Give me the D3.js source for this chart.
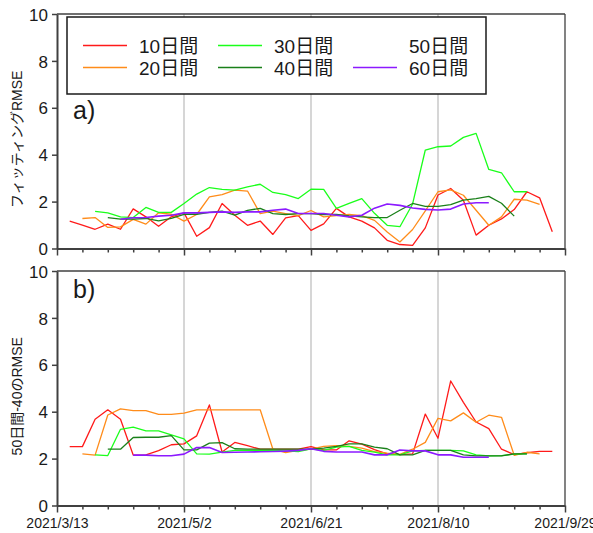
<!DOCTYPE html>
<html>
<head>
<meta charset="utf-8">
<script src="https://cdnjs.cloudflare.com/ajax/libs/d3/7.8.5/d3.min.js"></script>
<style>
  body { margin: 0; background: #fff; }
  svg text { font-family: "Liberation Sans", Arial, "Noto Sans CJK JP", sans-serif; fill: #1a1a1a; }
</style>
</head>
<body>
<div id="chart"></div>
<script>
// days after 2021/3/13
var days = [5,10,15,20,25,30,35,40,45,50,55,60,65,70,75,80,85,90,95,100,
            105,110,115,120,125,130,135,140,145,150,155,160,165,170,175,180,185,190,195];
var seriesNames = ["10日間","20日間","30日間","40日間","50日間","60日間"];
var seriesColors = ["#ff1a1a","#ff8c1a","#1aff1a","#1a801a","#ffffff","#8c1aff"];
var dateTicks = [0,50,100,150,200];
var dateLabels = ["2021/3/13","2021/5/2","2021/6/21","2021/8/10","2021/9/29"];
var yTicks = [0,2,4,6,8,10];

// a) fitting RMSE
var a10 = [1.17,1.0,0.82,1.04,0.82,1.69,1.35,0.95,1.35,1.52,0.52,0.89,1.92,1.42,0.99,1.17,0.6,1.31,1.4,0.77,
           1.05,1.71,1.35,1.17,0.88,0.35,0.17,0.13,0.88,2.28,2.56,2.06,0.57,0.99,1.26,1.66,2.42,2.16,0.71];
var a20 = [null,1.28,1.32,0.9,0.92,1.24,1.04,1.52,1.46,1.17,1.45,2.2,2.3,2.49,2.45,1.49,1.59,1.49,1.4,1.62,
           1.35,1.4,1.45,1.4,1.2,0.7,0.28,0.81,1.6,2.42,2.5,2.27,1.63,0.99,1.35,2.1,2.06,1.88,null];
var a30 = [null,null,1.58,1.52,1.35,1.32,1.75,1.54,1.54,1.92,2.32,2.6,2.52,2.49,2.63,2.74,2.39,2.3,2.13,2.53,
           2.52,1.71,1.92,2.13,1.5,0.99,0.93,1.9,4.2,4.34,4.37,4.74,4.91,3.37,3.23,2.42,2.42,null,null];
var a40 = [null,null,null,1.32,1.25,1.25,1.28,1.18,1.28,1.46,1.46,1.54,1.59,1.42,1.63,1.71,1.49,1.45,1.49,1.49,
           1.45,1.45,1.39,1.35,1.32,1.32,1.63,1.92,1.8,1.8,1.87,2.06,2.13,2.22,1.93,1.38,null,null,null];
var a60 = [null,null,null,null,1.25,1.31,1.32,1.38,1.42,1.52,1.52,1.54,1.56,1.54,1.56,1.56,1.63,1.68,1.49,1.49,
           1.49,1.42,1.35,1.42,1.72,1.9,1.84,1.73,1.67,1.64,1.68,1.9,1.95,1.95,null,null,null,null,null];

// b) RMSE of 50-day vs 40
var b10 = [2.51,2.51,3.68,4.08,3.68,2.15,2.16,2.34,2.59,2.63,2.97,4.29,2.28,2.69,2.55,2.4,2.4,2.4,2.4,2.51,
           2.37,2.37,2.76,2.62,2.38,2.2,2.17,2.2,3.9,2.87,5.31,4.4,3.56,3.28,2.4,2.17,2.25,2.31,2.31];
var b20 = [null,2.2,2.15,3.86,4.12,4.05,4.05,3.89,3.89,3.94,4.08,4.08,4.08,4.08,4.08,4.08,2.4,2.26,2.35,2.4,
           2.52,2.55,2.52,2.45,2.3,2.23,2.18,2.4,2.69,3.72,3.61,3.95,3.55,3.85,3.76,2.14,2.27,2.2,null];
var b30 = [null,null,2.16,2.13,3.25,3.34,3.18,3.18,3.01,2.84,2.2,2.19,2.28,2.35,2.35,2.35,2.35,2.33,2.3,2.42,
           2.35,2.49,2.52,2.35,2.28,2.16,2.16,2.33,2.35,2.35,2.35,2.33,2.16,2.12,2.13,2.19,2.2,null,null];
var b40 = [null,null,null,2.4,2.4,2.9,2.91,2.91,2.98,2.37,2.37,2.66,2.68,2.42,2.4,2.4,2.4,2.4,2.4,2.4,
           2.45,2.52,2.63,2.63,2.49,2.42,2.16,2.16,2.35,2.35,2.35,2.16,2.12,2.12,2.12,2.2,2.2,null,null];
var b60 = [null,null,null,null,null,2.15,2.15,2.12,2.12,2.19,2.47,2.47,2.26,2.27,2.28,2.29,2.3,2.32,2.35,2.42,
           2.31,2.28,2.28,2.28,2.16,2.16,2.37,2.33,2.33,2.16,2.16,2.06,2.06,2.06,null,null,null,null,null];

var width = 593, height = 533;
var svg = d3.select("#chart").append("svg")
  .attr("width", width).attr("height", height);

var x = d3.scaleLinear().domain([0, 200]).range([57, 565]);

var panels = [
  {top: 14, bottom: 248.5, label: "a)", labelY: 119, ytitle: "フィッティングRMSE",
   series: [a10, a20, a30, a40, null, a60], showDates: false},
  {top: 271, bottom: 505.5, label: "b)", labelY: 298, ytitle: "50日間-40のRMSE",
   series: [b10, b20, b30, b40, null, b60], showDates: true}
];

var minorTicks = d3.range(0, 201, 10);

panels.forEach(function(p){
  var y = d3.scaleLinear().domain([0, 10]).range([p.bottom, p.top]);
  var g = svg.append("g");

  // vertical reference lines
  g.selectAll(".vgrid").data(dateTicks.slice(1, 4)).enter().append("line")
    .attr("x1", function(d){ return x(d); }).attr("x2", function(d){ return x(d); })
    .attr("y1", p.top).attr("y2", p.bottom)
    .style("stroke", "#c8c8c8").style("stroke-width", 1.5);

  // series lines
  var line = d3.line()
    .defined(function(d){ return d.v != null; })
    .x(function(d){ return x(d.day); })
    .y(function(d){ return y(d.v); });

  p.series.forEach(function(vals, i){
    if (!vals) return;
    var pts = days.map(function(d, k){ return {day: d, v: vals[k]}; });
    g.append("path")
      .datum(pts)
      .attr("d", line)
      .style("fill", "none")
      .style("stroke", seriesColors[i])
      .style("stroke-width", i == 5 ? 1.6 : 1.3)
      .style("stroke-linejoin", "round");
  });

  // frame top / right
  g.append("line").attr("x1", x(0)).attr("x2", x(200)).attr("y1", p.top).attr("y2", p.top)
    .style("stroke", "#404040").style("stroke-width", 1.3);
  g.append("line").attr("x1", x(200)).attr("x2", x(200)).attr("y1", p.top).attr("y2", p.bottom)
    .style("stroke", "#404040").style("stroke-width", 1.3);

  // y axis
  var yAxis = g.append("g")
    .attr("transform", "translate(" + x(0) + ",0)")
    .call(d3.axisLeft(y).tickValues(yTicks).tickSizeInner(5).tickSizeOuter(0).tickPadding(4));
  yAxis.select(".domain").style("stroke", "#404040").style("stroke-width", 2);
  yAxis.selectAll(".tick line").style("stroke", "#404040").style("stroke-width", 1.5);
  yAxis.selectAll("text").style("font-size", "17px").attr("dy", "0.36em");

  // x axis
  var xAxis = g.append("g")
    .attr("transform", "translate(0," + p.bottom + ")")
    .call(d3.axisBottom(x).tickValues(minorTicks).tickSizeOuter(0)
      .tickSizeInner(4)
      .tickFormat(function(d){
        var k = dateTicks.indexOf(d);
        return (p.showDates && k >= 0) ? dateLabels[k] : "";
      })
      .tickPadding(9));
  xAxis.select(".domain").style("stroke", "#404040").style("stroke-width", 2);
  xAxis.selectAll(".tick line")
    .attr("y2", function(d){ return dateTicks.indexOf(d) >= 0 ? 7 : 4; })
    .style("stroke", "#404040").style("stroke-width", 1.5);
  xAxis.selectAll("text").style("font-size", "14px");

  // panel letter
  g.append("text").attr("x", 73).attr("y", p.labelY)
    .style("font-size", "25px").text(p.label);

  // y title
  g.append("text")
    .attr("transform", "translate(22," + ((p.top + p.bottom) / 2 + 8) + ") rotate(-90)")
    .style("text-anchor", "middle")
    .style("font-size", "14px")
    .text(p.ytitle);
});

// legend
var leg = svg.append("g");
leg.append("rect").attr("x", 67).attr("y", 17).attr("width", 419).attr("height", 77)
  .style("fill", "#fff").style("stroke", "#1a1a1a").style("stroke-width", 1.5);

var colX = [83, 218, 353];
var rowY = [45.5, 67.5];
seriesNames.forEach(function(name, i){
  var cx = colX[Math.floor(i / 2)], cy = rowY[i % 2];
  leg.append("line").attr("x1", cx).attr("x2", cx + 44).attr("y1", cy).attr("y2", cy)
    .style("stroke", seriesColors[i]).style("stroke-width", 1.3);
  leg.append("text").attr("x", cx + 56).attr("y", cy + 7)
    .style("font-size", "19px").text(name);
});
</script>
</body>
</html>
